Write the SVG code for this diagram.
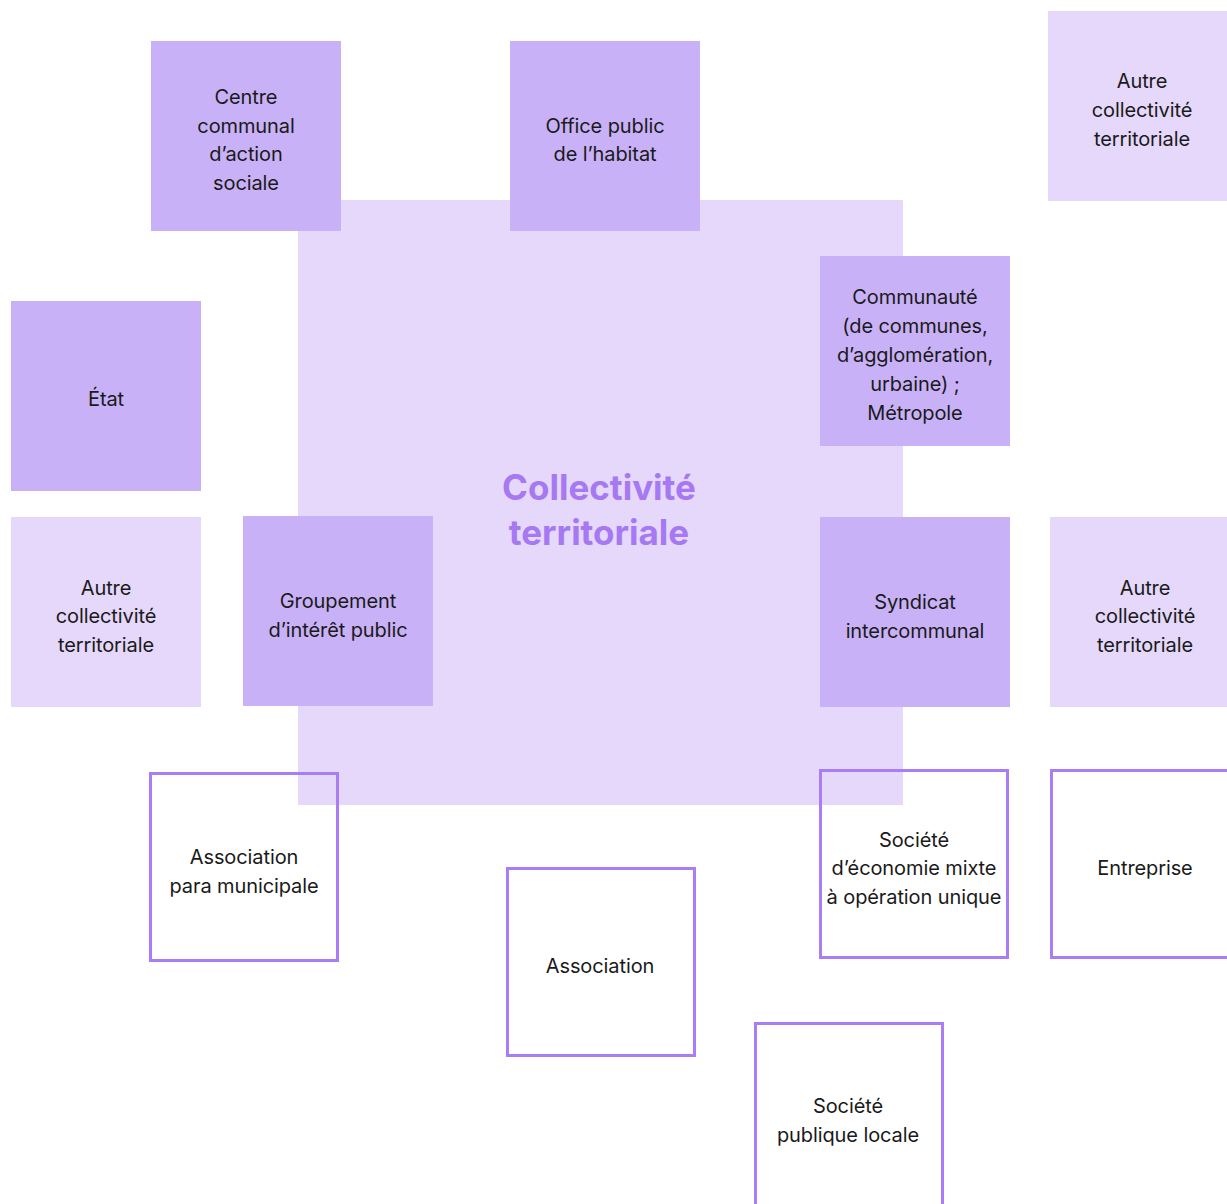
<svg xmlns="http://www.w3.org/2000/svg" width="1227" height="1204" viewBox="0 0 1227 1204">
<style>
.dark{fill:#C9B1F7}
.light{fill:#E5D8FB}
.out{fill:none;stroke:#A87DF5;stroke-width:3}
text{font-family:Inter,"Liberation Sans",sans-serif;font-size:20px;fill:#1a1a1a;text-anchor:middle;letter-spacing:-0.1px}
.title{font-size:35px;font-weight:700;fill:#A678F2;letter-spacing:0}
</style>
<rect width="1227" height="1204" fill="#ffffff"/>
<g id="collectivite">
<rect class="light" x="298" y="200" width="605" height="605"/>
<text class="title" x="599" y="500">Collectivité</text>
<text class="title" x="599" y="545">territoriale</text>
</g>
<g id="connectors"></g>
<g id="ccas"><rect class="dark" x="151" y="41" width="190" height="190"/>
<text x="246" y="104">Centre</text><text x="246" y="133">communal</text><text x="246" y="161">d’action</text><text x="246" y="190">sociale</text></g>
<g id="oph"><rect class="dark" x="510" y="41" width="190" height="190"/>
<text x="605" y="133">Office public</text><text x="605" y="161">de l’habitat</text></g>
<g id="autre1"><rect class="light" x="1048" y="11" width="190" height="190"/>
<text x="1142" y="88">Autre</text><text x="1142" y="117">collectivité</text><text x="1142" y="146">territoriale</text></g>
<g id="communaute"><rect class="dark" x="820" y="256" width="190" height="190"/>
<text x="915" y="304">Communauté</text><text x="915" y="333">(de communes,</text><text x="915" y="362">d’agglomération,</text><text x="915" y="391">urbaine) ;</text><text x="915" y="420">Métropole</text></g>
<g id="etat"><rect class="dark" x="11" y="301" width="190" height="190"/>
<text x="106" y="406">État</text></g>
<g id="autre2"><rect class="light" x="11" y="517" width="190" height="190"/>
<text x="106" y="595">Autre</text><text x="106" y="623">collectivité</text><text x="106" y="652">territoriale</text></g>
<g id="gip"><rect class="dark" x="243" y="516" width="190" height="190"/>
<text x="338" y="608">Groupement</text><text x="338" y="637">d’intérêt public</text></g>
<g id="syndicat"><rect class="dark" x="820" y="517" width="190" height="190"/>
<text x="915" y="609">Syndicat</text><text x="915" y="638">intercommunal</text></g>
<g id="autre3"><rect class="light" x="1050" y="517" width="190" height="190"/>
<text x="1145" y="595">Autre</text><text x="1145" y="623">collectivité</text><text x="1145" y="652">territoriale</text></g>
<g id="assocpara"><rect class="out" x="150.5" y="773.5" width="187" height="187"/>
<text x="244" y="864">Association</text><text x="244" y="893">para municipale</text></g>
<g id="sem"><rect class="out" x="820.5" y="770.5" width="187" height="187"/>
<text x="914" y="847">Société</text><text x="914" y="875">d’économie mixte</text><text x="914" y="904">à opération unique</text></g>
<g id="entreprise"><rect class="out" x="1051.5" y="770.5" width="187" height="187"/>
<text x="1145" y="875">Entreprise</text></g>
<g id="association"><rect class="out" x="507.5" y="868.5" width="187" height="187"/>
<text x="600" y="973">Association</text></g>
<g id="spl"><rect class="out" x="755.5" y="1023.5" width="187" height="187"/>
<text x="848" y="1113">Société</text><text x="848" y="1142">publique locale</text></g>
</svg>
